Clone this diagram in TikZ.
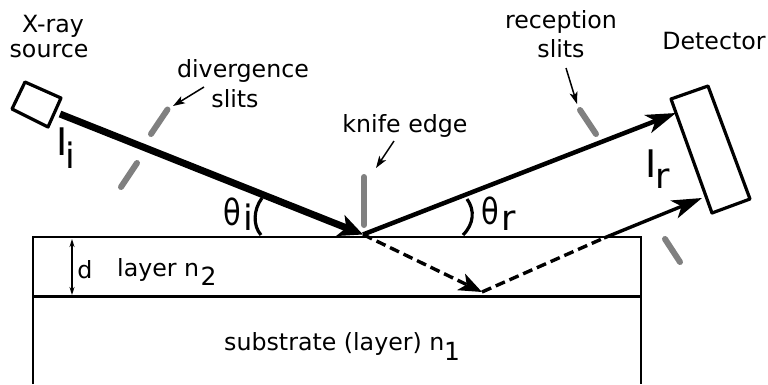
\documentclass[tikz,border=0pt]{standalone}
\usepackage{fontspec}
\setmainfont{DejaVu Sans}
\usetikzlibrary{arrows.meta}
\tikzset{
  lbl/.style={font=\fontsize{23.7}{27}\selectfont,inner sep=0pt,anchor=base,text=black},
  big/.style={font=\fontsize{38}{42}\selectfont,inner sep=0pt,anchor=base west},
  mid/.style={font=\fontsize{35}{40}\selectfont,inner sep=0pt,anchor=base west},
  thet/.style={font=\fontsize{36}{40}\selectfont,inner sep=0pt,anchor=base west,xscale=.8},
  sub/.style={font=\fontsize{25}{28}\selectfont,inner sep=0pt,anchor=base west},
  slit/.style={draw=black!50,line width=6pt,line cap=round},
  frame/.style={draw=black,line width=3.2pt,line join=round},
  callout/.style={draw=black,line width=1.5pt,-{Stealth[length=12pt,width=8pt,inset=3pt]}},
  headA/.style={-{Stealth[length=24pt,width=22pt,inset=6pt]}},
  headB/.style={-{Stealth[length=30pt,width=19pt,inset=8pt]}},
  headC/.style={-{Stealth[length=23pt,width=18pt,inset=6pt]}}
}
\begin{document}
\begin{tikzpicture}[x=1pt,y=-1pt]
\useasboundingbox (0,0) rectangle (768,384);
% coordinates
\coordinate (src) at (60,114);
\coordinate (hit) at (363,234.5);
\coordinate (detTop) at (676,113);
\coordinate (lower) at (482,292);
\coordinate (exit) at (604,238);
\coordinate (detLow) at (702,198);
\coordinate (TL) at (33,384);
\coordinate (TLt) at (33,237);
\coordinate (TRt) at (641,237);
\coordinate (TR) at (641,384);
\coordinate (ML) at (33,296);
\coordinate (MR) at (641,296);
% layers
\draw[draw=black,line width=2.2pt,line join=miter] (TL) -- (TLt) -- (TRt) -- (TR);
\draw[draw=black,line width=3pt] (ML) -- (MR);
% source and detector
\draw[frame] (25,82) -- (61,98) -- (48,127) -- (12,109) -- cycle;
\draw[frame] (671,99) -- (708,86) -- (750,199) -- (712,213) -- cycle;
% slits
\draw[slit] (167.5,109.5) -- (151,134);
\draw[slit] (137,163) -- (121,187);
\draw[slit] (364,177) -- (364,225);
\draw[slit] (580,110) -- (596,134);
\draw[slit] (665,239) -- (680,262);
% beams
\draw[line width=7pt,headA] (src) -- (hit);
\draw[line width=4.5pt,headB] (hit) -- (detTop);
\draw[line width=3.4pt,dash pattern=on 10pt off 5pt,headC] (hit) -- (lower);
\draw[line width=3.4pt,dash pattern=on 10pt off 5pt] (lower) -- (exit);
\draw[line width=3.4pt,headB] (exit) -- (detLow);
% angle arcs
\draw[line width=3.2pt] (262,198) .. controls (253,210) and (253,226) .. (261,235);
\draw[line width=3.2pt] (467,199) .. controls (475,210) and (474,224) .. (463,235);
% d arrow
\draw[line width=1.2pt,{Stealth[length=8pt,width=5pt]}-{Stealth[length=8pt,width=5pt]}] (72,239) -- (72,295);
% callouts
\coordinate (cd1) at (204,87); \coordinate (cd2) at (173,106);
\coordinate (cr1) at (566,68); \coordinate (cr2) at (577,104);
\coordinate (ck1) at (394,141); \coordinate (ck2) at (376,168);
\draw[callout] (cd1) -- (cd2);
\draw[callout] (cr1) -- (cr2);
\draw[callout] (ck1) -- (ck2);
% labels
\node[lbl] (xray) at (53,32) {X-ray};
\node[lbl] (xsrc) at (49,57) {source};
\node[lbl] (div) at (243,77) {divergence};
\node[lbl] (divs) at (235,107) {slits};
\node[lbl] (knife) at (405,132) {knife edge};
\node[lbl] (rec) at (561,28) {reception};
\node[lbl] (recs) at (561,57) {slits};
\node[lbl] (det) at (714,49) {Detector};
\node[lbl] (dl) at (85,278) {d};
\node[lbl,anchor=base west] (lay) at (117,276) {layer n};
\node[sub] (lay2) at (200.5,285) {2};
\node[lbl,anchor=base west] (subs) at (224,350) {substrate (layer) n};
\node[sub] (subs1) at (444,360) {1};
\node[big] (Ii) at (56,155) {I};
\node[mid] (Iis) at (65,168) {i};
\node[big] (Ir) at (645,177) {I};
\node[mid] (Irs) at (655,188) {r};
\node[thet] (ti) at (223,225) {θ};
\node[mid] (tis) at (243,230) {i};
\node[thet] (tr) at (481,224) {θ};
\node[mid] (trs) at (501,230) {r};
\end{tikzpicture}
\end{document}
